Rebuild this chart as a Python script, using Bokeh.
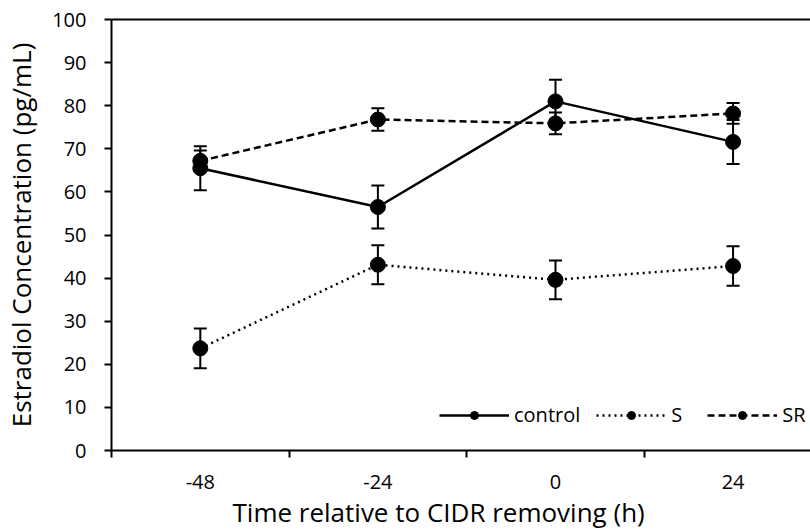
from bokeh.plotting import figure
from bokeh.models import (Range1d, LinearAxis, FixedTicker, Whisker, TeeHead, Title,
                          ColumnDataSource, Legend, LegendItem, CustomJSTickFormatter)
from bokeh.embed import file_html
from bokeh.resources import INLINE

# ---- data ----
times = ["-48", "-24", "0", "24"]
control = [65.5, 56.5, 81.0, 71.6]
control_err = [5.1, 5.0, 5.0, 5.1]
s_vals = [23.7, 43.1, 39.6, 42.8]
s_err = [4.6, 4.5, 4.5, 4.6]
sr_vals = [67.2, 76.8, 75.9, 78.2]
sr_err = [2.4, 2.6, 2.5, 2.4]
y_ticks = [0, 10, 20, 30, 40, 50, 60, 70, 80, 90, 100]
x_title = "Time relative to CIDR removing (h)"
y_title = "Estradiol Concentration (pg/mL)"

FONT = "Open Sans"
xs = [i + 0.5 for i in range(len(times))]
bounds = [float(i) for i in range(len(times))]

p = figure(width=810, height=529, x_range=Range1d(0, 3.936), y_range=Range1d(0, 100),
           output_backend="svg", toolbar_location=None,
           min_border_left=107, min_border_right=0, min_border_top=19, min_border_bottom=77)
p.outline_line_color = None
p.grid.visible = False

xa = p.xaxis[0]
xa.ticker = FixedTicker(ticks=xs, minor_ticks=bounds)
xa.formatter = CustomJSTickFormatter(args=dict(labels=times), code="return labels[index];")
xa.major_tick_out = 0
xa.major_tick_in = 0
xa.minor_tick_out = 7
xa.minor_tick_in = 0
xa.minor_tick_line_width = 2
xa.minor_tick_line_color = "black"
xa.axis_line_width = 2
xa.major_label_standoff = 17

ya = p.yaxis[0]
ya.ticker = FixedTicker(ticks=y_ticks)
ya.major_tick_out = 7
ya.major_tick_in = 0
ya.major_tick_line_width = 2
ya.minor_tick_line_color = None
ya.axis_line_width = 2
ya.major_label_standoff = 18
ya.axis_label = y_title
ya.axis_label_standoff = 10

for ax in (xa, ya):
    ax.axis_line_color = "black"
    ax.major_tick_line_color = "black"
    ax.major_label_text_font = FONT
    ax.major_label_text_font_size = "20px"
    ax.major_label_text_color = "black"
    ax.axis_label_text_font = FONT
    ax.axis_label_text_font_size = "26px"
    ax.axis_label_text_font_style = "normal"
    ax.axis_label_text_color = "black"

top = LinearAxis(ticker=FixedTicker(ticks=[]), axis_line_width=2, axis_line_color="black",
                 major_tick_line_color=None, minor_tick_line_color=None,
                 major_label_text_font_size="0px")
p.add_layout(top, "above")

xt = Title(text=x_title, align="left", offset=121, standoff=0,
           text_font=FONT, text_font_size="26px", text_font_style="normal",
           text_color="black")
p.add_layout(xt, "below")


def series(vals, errs, dash):
    src = ColumnDataSource(dict(x=xs, y=vals,
                                upper=[v + e for v, e in zip(vals, errs)],
                                lower=[v - e for v, e in zip(vals, errs)]))
    ln = p.line("x", "y", source=src, line_color="black", line_width=2.5, line_dash=dash)
    pt = p.scatter("x", "y", source=src, size=15, color="black")
    p.add_layout(Whisker(source=src, base="x", upper="upper", lower="lower",
                         line_width=2, line_color="black",
                         upper_head=TeeHead(size=13, line_width=2, line_color="black"),
                         lower_head=TeeHead(size=13, line_width=2, line_color="black")))
    return ln, pt


c_ln, c_pt = series(control, control_err, "solid")
s_ln, s_pt = series(s_vals, s_err, "2 4")
sr_ln, sr_pt = series(sr_vals, sr_err, "7 4")

legend = Legend(items=[LegendItem(label="control", renderers=[c_ln, c_pt]),
                       LegendItem(label="S", renderers=[s_ln, s_pt]),
                       LegendItem(label="SR", renderers=[sr_ln, sr_pt])],
                orientation="horizontal", location=(328, 22),
                glyph_width=70, glyph_height=20, label_standoff=5, spacing=16,
                padding=0, margin=0, border_line_color=None, background_fill_alpha=0,
                label_text_font=FONT, label_text_font_size="20px", label_text_color="black",
                label_height=20)
p.add_layout(legend)

open("out.html", "w").write(file_html(p, INLINE))
